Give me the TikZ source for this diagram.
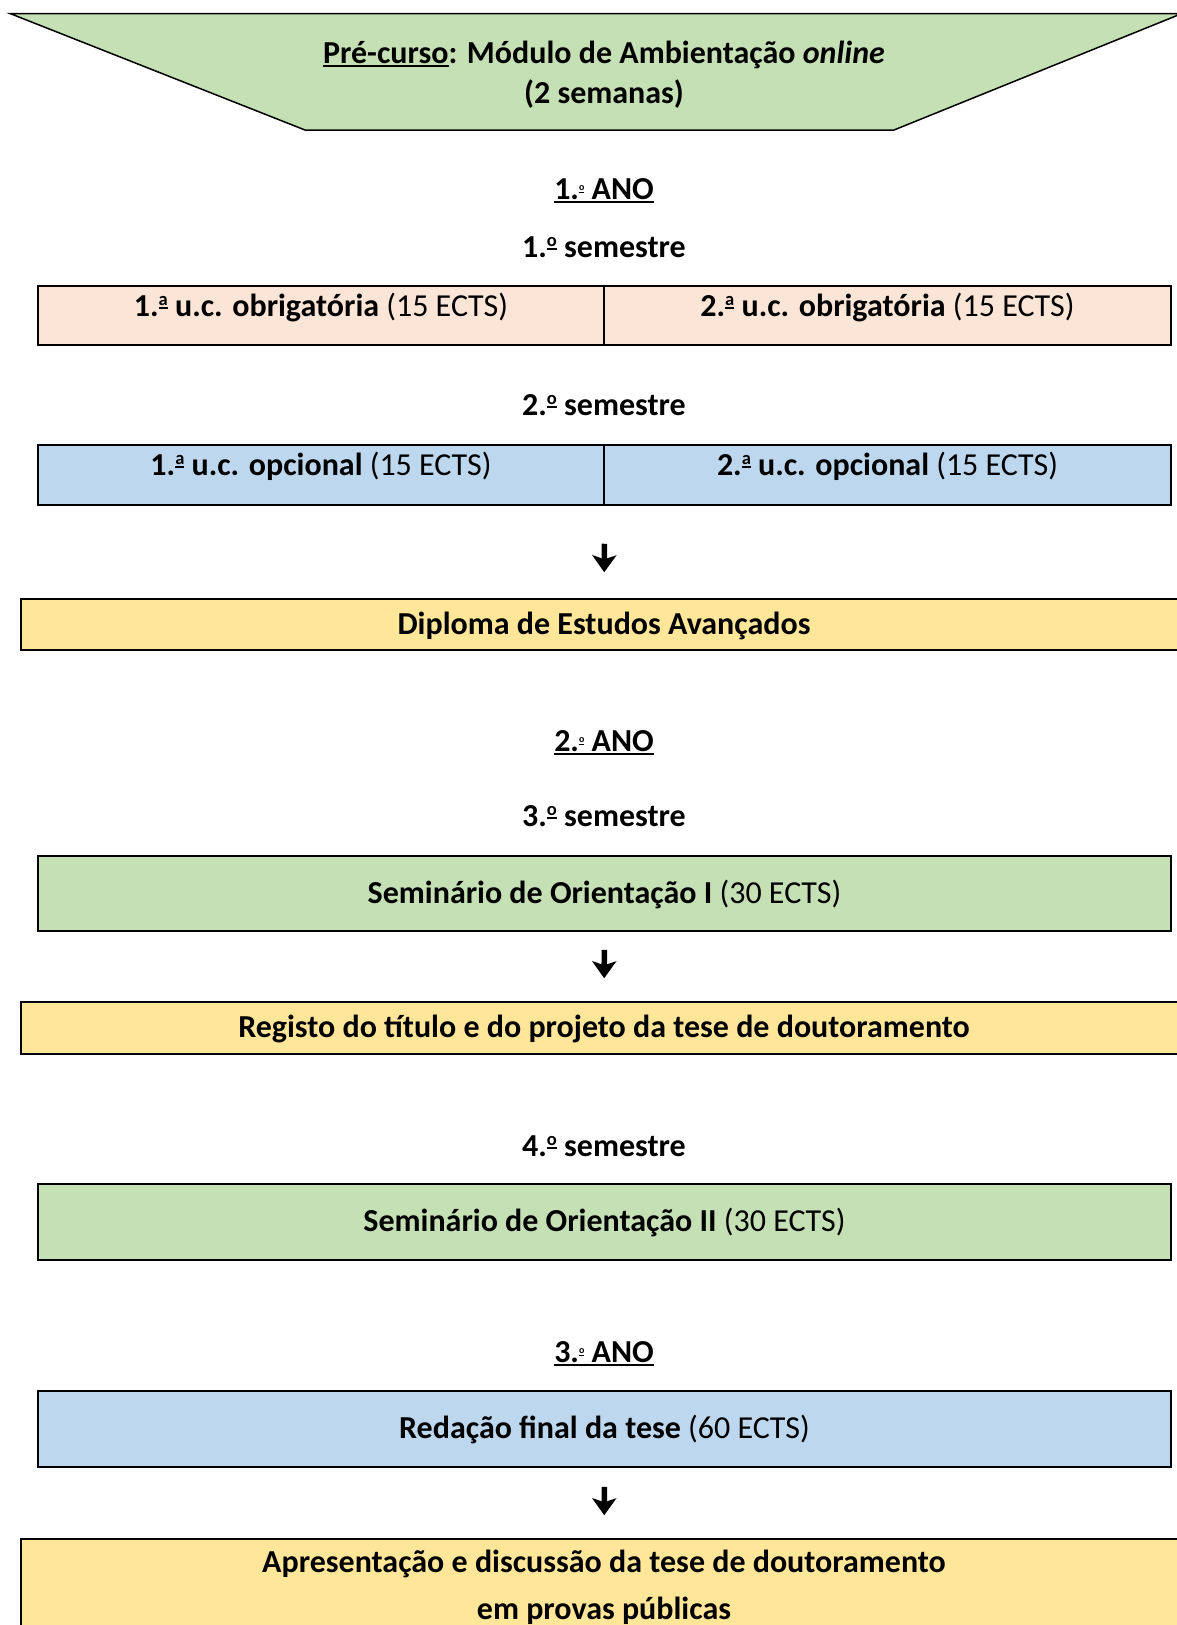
\documentclass[tikz,border=0pt]{standalone}
\usepackage{fontspec}
\setmainfont{Carlito}
\usetikzlibrary{arrows.meta}
\definecolor{cgreen}{HTML}{C5E0B4}
\definecolor{cpeach}{HTML}{FBE5D6}
\definecolor{cblue}{HTML}{BDD7EE}
\definecolor{cyellow}{HTML}{FFE699}
\newcommand\myul[1]{\setbox0=\hbox{#1}\rlap{\rule[-3pt]{\wd0}{2pt}}\box0}
\newcommand\ordx[1]{\raisebox{10.8pt}{\fontsize{18.5}{18.5}\selectfont\setbox2=\hbox{#1}\rlap{\rule[-3.4pt]{\wd2}{1.7pt}}\box2}}
\newcommand\ordsm[1]{\raisebox{9pt}{\fontsize{10}{10}\selectfont\setbox2=\hbox{#1}\rlap{\rule[-2.2pt]{\wd2}{1.2pt}}\box2}}
\begin{document}
\begin{tikzpicture}[x=1pt,y=-1pt,
  font=\fontsize{32}{38}\selectfont,
  boxbase/.style={draw=black, line width=1.5pt, inner sep=0pt},
  box/.style={boxbase, text height=27pt, text depth=8pt},
  cell/.style={box, text depth=26pt},
  head/.style={inner sep=0pt, text height=27pt, text depth=8pt, font=\fontsize{32}{38}\selectfont\bfseries},
  flow/.style={-{Stealth[length=17pt,width=24pt,inset=4pt]}, line width=5.5pt}]
\useasboundingbox (0,0) rectangle (1176,1625);

% pre-course trapezoid
\draw[fill=cgreen, line width=1.5pt] (10,13.5) -- (1182,13.5) -- (894,130) -- (305,130) -- cycle;
\node[inner sep=0pt, align=center, font=\fontsize{32}{40}\selectfont\bfseries] (pre) at (604,75)
  {\myul{Pré-curso}: Módulo de Ambientação \textit{online}\\(2 semanas)};

% year 1
\node[head] (ano1) at (604,190) {\myul{1.\ordsm{o} ANO}};
\node[head] (sem1t) at (604,248) {1.\ordx{o} semestre};
\node[cell, fill=cpeach, minimum width=566pt, minimum height=59pt] (r1l) at (321,315.5)
  {\textbf{1.\ordx{a} u.c. obrigatória} (15 ECTS)};
\node[cell, fill=cpeach, minimum width=567pt, minimum height=59pt] (r1r) at (887.5,315.5)
  {\textbf{2.\ordx{a} u.c. obrigatória} (15 ECTS)};
\node[head] (sem2t) at (604,406) {2.\ordx{o} semestre};
\node[cell, fill=cblue, minimum width=566pt, minimum height=60pt] (r2l) at (321,475)
  {\textbf{1.\ordx{a} u.c. opcional} (15 ECTS)};
\node[cell, fill=cblue, minimum width=567pt, minimum height=60pt] (r2r) at (887.5,475)
  {\textbf{2.\ordx{a} u.c. opcional} (15 ECTS)};
\node[box, fill=cyellow, minimum width=1166pt, minimum height=51pt] (dipl) at (604,624.5)
  {\textbf{Diploma de Estudos Avançados}};

% year 2
\node[head] (ano2) at (604,742) {\myul{2.\ordsm{o} ANO}};
\node[head] (sem3t) at (604,817) {3.\ordx{o} semestre};
\node[box, fill=cgreen, minimum width=1133pt, minimum height=75pt] (semI) at (604.5,893.5)
  {\textbf{Seminário de Orientação I} (30 ECTS)};
\node[box, fill=cyellow, minimum width=1166pt, minimum height=52pt] (reg) at (604,1028)
  {\textbf{Registo do título e do projeto da tese de doutoramento}};
\node[head] (sem4t) at (604,1147) {4.\ordx{o} semestre};
\node[box, fill=cgreen, minimum width=1133pt, minimum height=76pt] (semII) at (604.5,1222)
  {\textbf{Seminário de Orientação II} (30 ECTS)};

% year 3
\node[head] (ano3) at (604,1353) {\myul{3.\ordsm{o} ANO}};
\node[box, fill=cblue, minimum width=1133pt, minimum height=76pt] (red) at (604.5,1429)
  {\textbf{Redação final da tese} (60 ECTS)};
\node[boxbase, fill=cyellow, minimum width=1166pt, minimum height=97pt, align=center,
  font=\fontsize{32}{47}\selectfont\bfseries] (apr) at (604,1587.5)
  {Apresentação e discussão da tese de doutoramento\\em provas públicas};

% arrows
\draw[flow, shorten <=38pt, shorten >=26pt] (r2l.south east) -- (dipl.north);
\draw[flow, shorten <=18pt, shorten >=23pt] (semI) -- (reg);
\draw[flow, shorten <=19pt, shorten >=23pt] (red) -- (apr);
\end{tikzpicture}
\end{document}
